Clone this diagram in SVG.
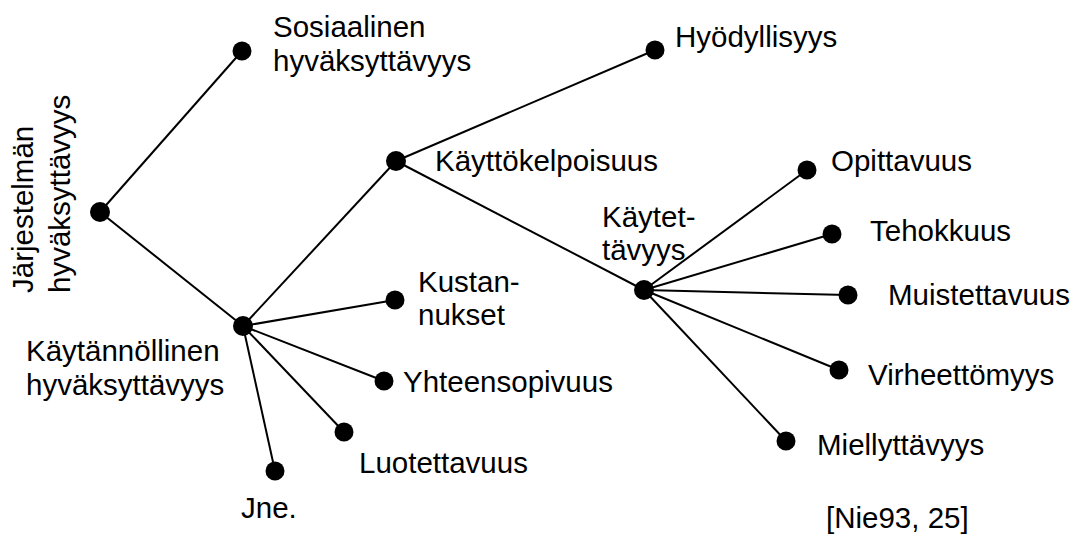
<svg xmlns="http://www.w3.org/2000/svg" width="1081" height="535" viewBox="0 0 1081 535">
<style>
text{font-family:"Liberation Sans",Arial,sans-serif;font-size:29.5px;fill:#000}
.c{stroke:#000;stroke-width:2;fill:none}
.n{fill:#000}
</style>
<rect width="1081" height="535" fill="#fff"/>
<g id="connectors" class="c">
<line x1="100" y1="212" x2="242" y2="51"/>
<line x1="100" y1="212" x2="243" y2="326"/>
<line x1="243" y1="326" x2="396" y2="161"/>
<line x1="396" y1="161" x2="655" y2="50"/>
<line x1="396" y1="161" x2="644" y2="290"/>
<line x1="644" y1="290" x2="807" y2="170"/>
<line x1="644" y1="290" x2="832" y2="234"/>
<line x1="644" y1="290" x2="848" y2="295"/>
<line x1="644" y1="290" x2="839" y2="370"/>
<line x1="644" y1="290" x2="786" y2="441"/>
<line x1="243" y1="326" x2="395" y2="300"/>
<line x1="243" y1="326" x2="384" y2="381"/>
<line x1="243" y1="326" x2="344" y2="432"/>
<line x1="243" y1="326" x2="275" y2="471"/>
</g>
<g id="root"><circle class="n" cx="100" cy="212" r="10"/>
<text transform="translate(33,293) rotate(-90)">Järjestelmän</text>
<text transform="translate(70,293) rotate(-90)">hyväksyttävyys</text></g>
<g id="sosiaalinen"><circle class="n" cx="242" cy="51" r="9.5"/>
<text x="273" y="37">Sosiaalinen</text><text x="273" y="71">hyväksyttävyys</text></g>
<g id="kaytannollinen"><circle class="n" cx="243" cy="326" r="10"/>
<text x="26" y="361">Käytännöllinen</text><text x="26" y="395">hyväksyttävyys</text></g>
<g id="kayttokelpoisuus"><circle class="n" cx="396" cy="161" r="10"/>
<text x="435" y="171">Käyttökelpoisuus</text></g>
<g id="hyodyllisyys"><circle class="n" cx="655" cy="50" r="9.5"/>
<text x="675" y="47">Hyödyllisyys</text></g>
<g id="kaytettavyys"><circle class="n" cx="644" cy="290" r="10"/>
<text x="602" y="227">Käytet-</text><text x="602" y="260">tävyys</text></g>
<g id="opittavuus"><circle class="n" cx="807" cy="170" r="9.5"/>
<text x="831" y="171">Opittavuus</text></g>
<g id="tehokkuus"><circle class="n" cx="832" cy="234" r="9.5"/>
<text x="870" y="241">Tehokkuus</text></g>
<g id="muistettavuus"><circle class="n" cx="848" cy="295" r="9.5"/>
<text x="888" y="305">Muistettavuus</text></g>
<g id="virheettomyys"><circle class="n" cx="839" cy="370" r="9.5"/>
<text x="868" y="385">Virheettömyys</text></g>
<g id="miellyttavyys"><circle class="n" cx="786" cy="441" r="9.5"/>
<text x="817" y="455">Miellyttävyys</text></g>
<g id="kustannukset"><circle class="n" cx="395" cy="300" r="9.5"/>
<text x="418" y="292">Kustan-</text><text x="418" y="325">nukset</text></g>
<g id="yhteensopivuus"><circle class="n" cx="384" cy="381" r="9.5"/>
<text x="403" y="392">Yhteensopivuus</text></g>
<g id="luotettavuus"><circle class="n" cx="344" cy="432" r="9.5"/>
<text x="359" y="473">Luotettavuus</text></g>
<g id="jne"><circle class="n" cx="275" cy="471" r="9.5"/>
<text x="241" y="518">Jne.</text></g>
<g id="source"><text x="826" y="528">[Nie93, 25]</text></g>
</svg>
